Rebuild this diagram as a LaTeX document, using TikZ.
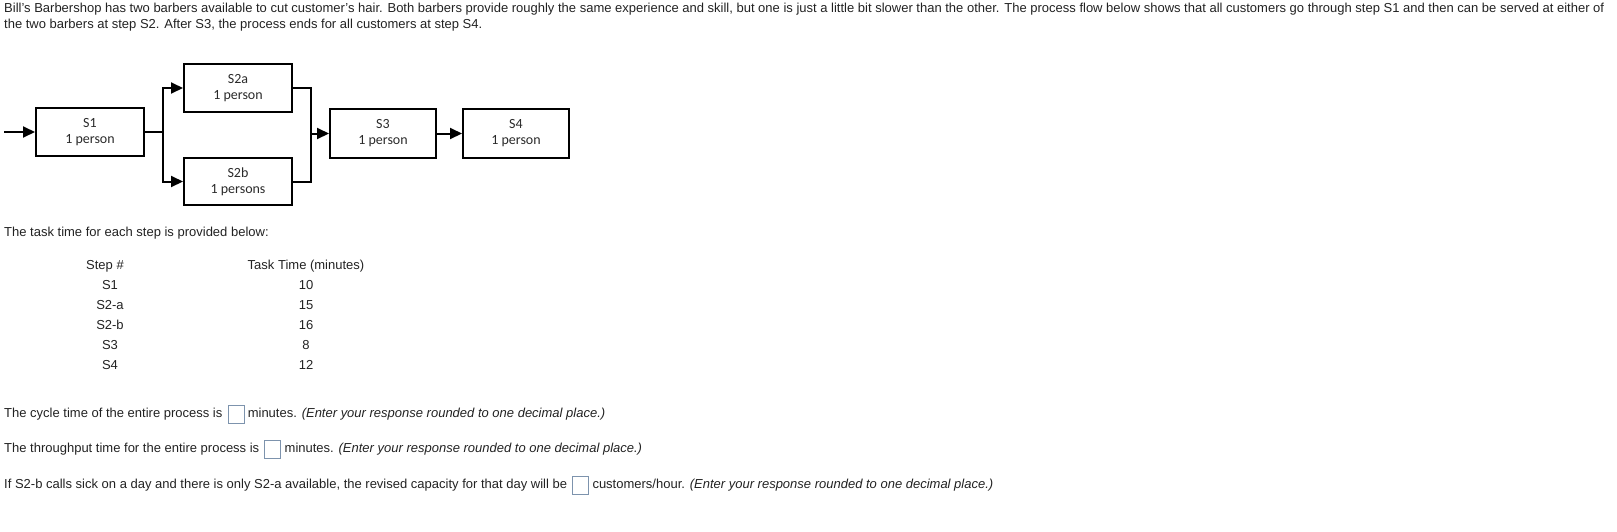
\documentclass[tikz,border=0pt]{standalone}
\usepackage{fontspec}
\setmainfont{Liberation Sans}
\newfontfamily\boxfont{Carlito}
\usetikzlibrary{arrows.meta}
\definecolor{txtcol}{HTML}{222222}
\definecolor{boxtxt}{HTML}{2A2A2A}
\definecolor{ansbox}{HTML}{7D93AD}
\begin{document}
\begin{tikzpicture}[x=1pt,y=-1pt,
  stepbox/.style={draw=black,line width=2pt,minimum width=108pt,minimum height=48pt,inner sep=0pt,align=center,text=boxtxt,font=\boxfont\fontsize{14}{16}\selectfont},
  conn/.style={line width=2pt},
  arr/.style={line width=2pt,-{Triangle[length=12pt,width=11pt]}},
  txt/.style={anchor=base west,inner sep=0pt,text=txtcol,font=\fontsize{13}{15}\selectfont},
  ctr/.style={anchor=base,inner sep=0pt,text=txtcol,font=\fontsize{13}{15}\selectfont},
  ans/.style={draw=ansbox,line width=1pt,minimum width=16pt,minimum height=18pt,inner sep=0pt,anchor=west}]
\useasboundingbox (0,0) rectangle (1617,531);
% intro text
\node[txt] (l1) at (4,12.7) {Bill's Barbershop has two barbers available to cut customer’s hair. Both barbers provide roughly the same experience and skill, but one is just a little bit slower than the other. The process flow below shows that all customers go through step S1 and then can be served at either of};
\node[txt] (l2) at (4,28.7) {the two barbers at step S2. After S3, the process ends for all customers at step S4.};
% diagram
\node[stepbox] (S1) at (90,132) {S1\\1 person};
\node[stepbox] (S2a) at (238,88) {S2a\\1 person};
\node[stepbox,minimum height=47pt] (S2b) at (238,181.5) {S2b\\1 persons};
\node[stepbox,minimum width=106pt,minimum height=49pt] (S3) at (383,133.5) {S3\\1 person};
\node[stepbox,minimum width=106pt,minimum height=49pt] (S4) at (516,133.5) {S4\\1 person};
\coordinate (start) at (4,132);
\coordinate (split) at (163,132);
\coordinate (merge) at (311,133.5);
\draw[arr] (start) -- (S1.west);
\draw[conn] (S1.east) -- (split);
\draw[arr] (split) |- (S2a.west);
\draw[arr] (split) |- (S2b.west);
\draw[conn] (S2a.east) -| (merge) |- (S2b.east);
\draw[arr] (merge) -- (S3.west);
\draw[arr] (S3.east) -- (S4.west);
% table
\node[txt] (intro) at (4,236.7) {The task time for each step is provided below:};
\node[ctr] (h1) at (105,269.7) {Step \#};
\node[ctr] (h2) at (306,269.7) {Task Time (minutes)};
\node[ctr] (r1a) at (110,289.7) {S1};
\node[ctr] (r1b) at (306,289.7) {10};
\node[ctr] (r2a) at (110,309.7) {S2-a};
\node[ctr] (r2b) at (306,309.7) {15};
\node[ctr] (r3a) at (110,329.7) {S2-b};
\node[ctr] (r3b) at (306,329.7) {16};
\node[ctr] (r4a) at (110,349.7) {S3};
\node[ctr] (r4b) at (306,349.7) {8};
\node[ctr] (r5a) at (110,369.7) {S4};
\node[ctr] (r5b) at (306,369.7) {12};
% questions
\node[txt] (q1) at (4,417.7) {The cycle time of the entire process is};
\node[ans] (b1) at ([xshift=5pt,yshift=3.7pt]q1.base east) {};
\node[txt] (q1b) at ([xshift=3pt,yshift=-3.7pt]b1.east) {minutes. \textit{(Enter your response rounded to one decimal place.)}};
\node[txt] (q2) at (4,452.7) {The throughput time for the entire process is};
\node[ans] (b2) at ([xshift=5pt,yshift=3.7pt]q2.base east) {};
\node[txt] (q2b) at ([xshift=3pt,yshift=-3.7pt]b2.east) {minutes. \textit{(Enter your response rounded to one decimal place.)}};
\node[txt] (q3) at (4,488.7) {If S2-b calls sick on a day and there is only S2-a available, the revised capacity for that day will be};
\node[ans] (b3) at ([xshift=5pt,yshift=3.7pt]q3.base east) {};
\node[txt] (q3b) at ([xshift=3pt,yshift=-3.7pt]b3.east) {customers/hour. \textit{(Enter your response rounded to one decimal place.)}};
\end{tikzpicture}
\end{document}
